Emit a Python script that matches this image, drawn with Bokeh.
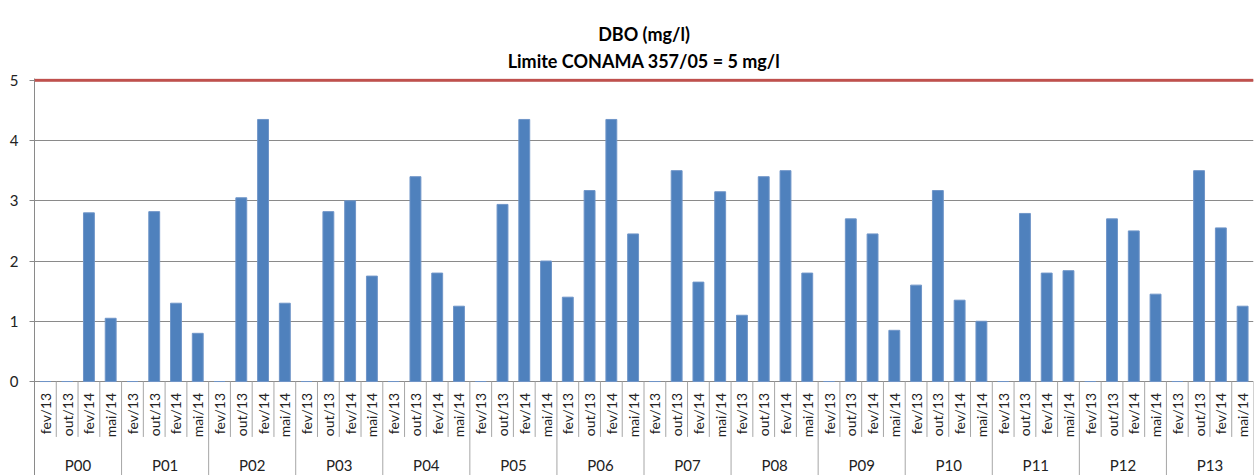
import math
from bokeh.plotting import figure
from bokeh.models import ColumnDataSource, FactorRange, FixedTicker, Span, Title, Range1d
from bokeh.core.properties import value
from bokeh.embed import file_html
from bokeh.resources import INLINE

# ---- data ----
points = ["P00", "P01", "P02", "P03", "P04", "P05", "P06",
          "P07", "P08", "P09", "P10", "P11", "P12", "P13"]
months = ["fev/13", "out/13", "fev/14", "mai/14"]
fev13 = [0, 0, 0, 0, 0, 0, 1.40, 0, 1.10, 0, 1.60, 0, 0, 0]
out13 = [0, 2.82, 3.05, 2.82, 3.40, 2.94, 3.17, 3.50, 3.40, 2.70, 3.17, 2.79, 2.70, 3.50]
fev14 = [2.80, 1.30, 4.35, 3.00, 1.80, 4.35, 4.35, 1.65, 3.50, 2.45, 1.35, 1.80, 2.50, 2.55]
mai14 = [1.05, 0.80, 1.30, 1.75, 1.25, 2.00, 2.45, 3.15, 1.80, 0.85, 1.00, 1.84, 1.45, 1.25]
limit = 5
title1 = "DBO (mg/l)"
title2 = "Limite CONAMA 357/05 = 5 mg/l"
yticks = [0, 1, 2, 3, 4, 5]

FONT = "Lato"
GRAY = "#8a8a8a"
YMIN = -1.56

factors = [(pt, m) for pt in points for m in months]
vals = []
for i in range(len(points)):
    vals += [fev13[i], out13[i], fev14[i], mai14[i]]

src = ColumnDataSource(dict(x=factors, top=vals))

p = figure(x_range=FactorRange(*factors, group_padding=0, subgroup_padding=0, range_padding=0),
           y_range=Range1d(YMIN, 5.03),
           width=1255, height=475, output_backend="svg", toolbar_location=None,
           min_border_left=34, min_border_right=2, min_border_top=78, min_border_bottom=0)
p.outline_line_color = None

# titles: panels added later sit nearer the frame
tkw = dict(align="center", text_font=FONT, text_font_size="18px", text_font_style="bold",
           text_color="#000000")
p.title = Title(text=title1, standoff=0, **tkw)
p.add_layout(Title(text=title2, standoff=10, vertical_align="top", **tkw), "above")

p.vbar(x="x", top="top", width=0.5, source=src, fill_color="#4F81BD", line_color="#6F95C8",
       line_width=1)

# limit line
p.add_layout(Span(location=limit, dimension="width", line_color="#dddddd", line_width=3, level="underlay"))
p.add_layout(Span(location=limit, dimension="width", line_color="#C0504D", line_width=3))

# axes
p.xaxis.visible = False
p.xgrid.visible = False
p.yaxis.ticker = FixedTicker(ticks=yticks)
p.ygrid.ticker = FixedTicker(ticks=yticks)
p.ygrid.grid_line_color = GRAY
p.yaxis.axis_line_color = GRAY
p.yaxis.major_tick_line_color = GRAY
p.yaxis.major_tick_out = 5
p.yaxis.major_tick_in = 0
p.yaxis.minor_tick_line_color = None
p.yaxis.major_label_standoff = 11
p.yaxis.major_label_text_font = FONT
p.yaxis.major_label_text_font_size = "15px"
p.yaxis.major_label_text_color = "#222222"

# category labels (rotated) and group labels
lab = ColumnDataSource(dict(x=factors, y=[-0.19] * len(factors), t=[f[1] for f in factors]))
p.text(x="x", y="y", text="t", source=lab, angle=math.pi / 2, text_align="right",
       text_baseline="middle", text_font=value(FONT), text_font_size="14px", text_color="#222222")
glab = ColumnDataSource(dict(x=points, y=[-1.38] * len(points), t=points))
p.text(x="x", y="y", text="t", source=glab, text_align="center", text_baseline="middle",
       text_font=value(FONT), text_font_size="15px", text_color="#222222")

# separators in the label area
x0, y1 = [], []
for pt, m in factors:
    x0.append((pt, m, -0.5))
    y1.append(YMIN if m == months[0] else -0.92)
x0.append((points[-1], months[-1], 0.5))
y1.append(YMIN)
sep = ColumnDataSource(dict(x0=x0, y0=[0] * len(x0), y1=y1))
p.segment(x0="x0", y0="y0", x1="x0", y1="y1", source=sep, line_color="#a6a6a6", line_width=1)

open("out.html", "w").write(file_html(p, INLINE))
